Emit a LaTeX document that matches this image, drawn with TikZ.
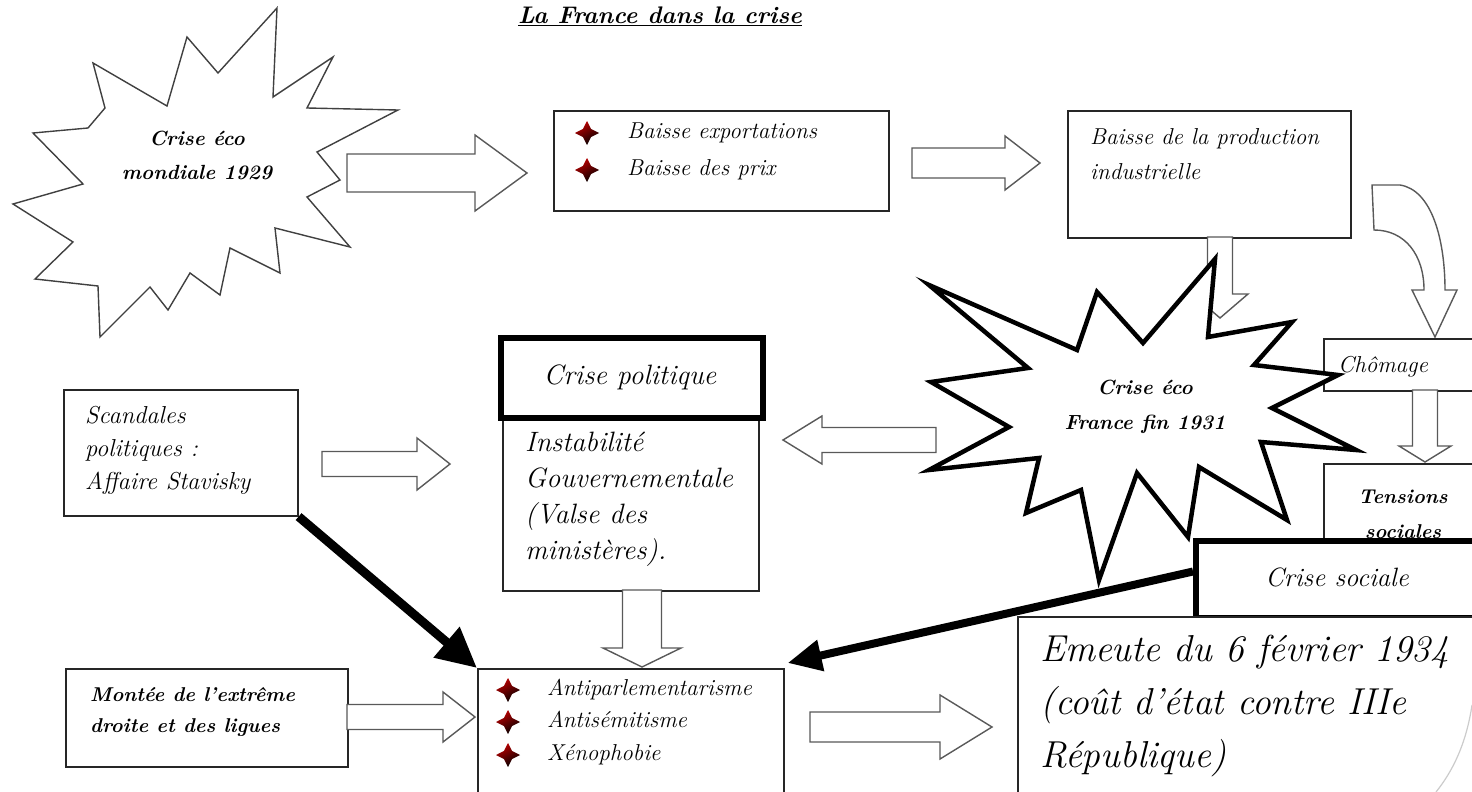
\documentclass[tikz,border=0pt]{standalone}
\usepackage{fontspec}
\usetikzlibrary{shapes.geometric,arrows.meta,calc}
\newcommand{\harrow}[6]{\draw[hollow] (#1,{#3-#4}) -- ({#2-#6},{#3-#4}) -- ({#2-#6},{#3-#5}) -- (#2,#3) -- ({#2-#6},{#3+#5}) -- ({#2-#6},{#3+#4}) -- (#1,{#3+#4}) -- cycle;}
\newcommand{\varrow}[6]{\draw[hollow] ({#1-#4},#2) -- ({#1-#4},{#3-#6}) -- ({#1-#5},{#3-#6}) -- (#1,#3) -- ({#1+#5},{#3-#6}) -- ({#1+#4},{#3-#6}) -- ({#1+#4},#2) -- cycle;}
\tikzset{
  box/.style={draw=black!85, line width=1.6pt, fill=white, inner sep=0pt, anchor=north west},
  thickbox/.style={draw=black, line width=6pt, fill=white, inner sep=0pt, anchor=north west},
  hollow/.style={draw=black!65, line width=1.4pt, fill=white, line join=miter},
  txt/.style={inner sep=0pt, align=left, anchor=west},
  ctxt/.style={inner sep=0pt, align=center},
  bulletstar/.style={star, star points=4, star point ratio=2.1, minimum size=24pt, inner sep=0pt, draw=none, shading=axis, top color=red!75!black, bottom color=black, shading angle=30},
  burstthin/.style={draw=black!75, line width=1.4pt, fill=white, line join=miter},
  burstthick/.style={draw=black, line width=4.5pt, fill=white, line join=miter},
  bigarrow/.style={line width=9pt, -{Triangle[length=40pt,width=38pt]}},
  bigarrowb/.style={line width=8pt, -{Triangle[length=34pt,width=30pt]}}
}
\begin{document}
\begin{tikzpicture}[x=1pt,y=-1pt]
\clip (0,0) rectangle (1472,792);
\fill[white] (0,0) rectangle (1472,792);

% title
\node[ctxt, font=\bfseries\itshape\fontsize{24}{28}\selectfont] (title) at (660,16) {\underline{La France dans la crise}};

% star 1
\draw[burstthin] (88,128) -- (33,133) -- (83,184) -- (13,204) -- (73,242) -- (35,279) -- (98,286) -- (100,337) -- (150,287) -- (168,310) -- (190,273) -- (220,295) -- (230,248) -- (280,273) -- (275,228) -- (350,247) -- (307,197) -- (340,180) -- (317,152) -- (398,110) -- (307,108) -- (333,57) -- (273,97) -- (277,8) -- (218,73) -- (187,37) -- (167,106) -- (93,63) -- (105,108) -- cycle;
\node[ctxt, font=\bfseries\itshape\fontsize{20.5}{34}\selectfont] (s1t) at (197,155) {Crise éco\\mondiale 1929};

% arrow 1 and exports box
\harrow{347}{527}{173}{19}{38}{52}
\node[box, minimum width=335pt, minimum height=100pt] (exp) at (553,110) {};
\node[bulletstar] (b1) at (587,133) {};
\node[bulletstar] (b2) at (587,170) {};
\node[txt, font=\itshape\fontsize{23}{37}\selectfont] (expt) at (627,151) {Baisse exportations\\Baisse des prix};

% arrow 2 and production box
\harrow{912}{1040}{163}{15}{27}{35}
\node[box, minimum width=283pt, minimum height=127pt] (prod) at (1067,110) {};
\node[txt, font=\itshape\fontsize{23}{35}\selectfont] (prodt) at (1090,154) {Baisse de la production\\industrielle};

% down arrow from production (behind star 2)
\varrow{1220}{237}{318}{12.5}{28}{24}

% curved arrow to chomage
\draw[hollow] (1372,185) -- (1400,185) .. controls (1432,190) and (1445,240) .. (1445,290) -- (1457,290) -- (1435,337) -- (1412,290) -- (1424,290) .. controls (1424,255) and (1405,230) .. (1374,230) -- cycle;

% chomage box
\node[box, minimum width=170pt, minimum height=52pt] (chom) at (1323,338) {};
\node[txt, font=\itshape\fontsize{23}{26}\selectfont] (chomt) at (1338,367) {Chômage};
\varrow{1425}{390}{462}{12.5}{26}{16}
\node[box, minimum width=170pt, minimum height=90pt] (tens) at (1323,463) {};
\node[ctxt, font=\bfseries\itshape\fontsize{20}{35}\selectfont] (tenst) at (1403,514) {Tensions\\sociales};

% star 2
\draw[burstthick] (929,285) -- (1028,368) -- (931,382) -- (1009,427) -- (929,470) -- (1039,458) -- (1026,513) -- (1081,490) -- (1099,580) -- (1137,473) -- (1188,537) -- (1199,467) -- (1287,520) -- (1261,442) -- (1356,450) -- (1272,408) -- (1338,375) -- (1254,365) -- (1292,322) -- (1208,337) -- (1215,259) -- (1143,343) -- (1097,292) -- (1077,350) -- cycle;
\node[ctxt, font=\bfseries\itshape\fontsize{20.5}{35}\selectfont] (s2t) at (1145,407) {Crise éco\\France fin 1931};

% crise sociale
\node[thickbox, minimum width=290pt, minimum height=77pt] (csoc) at (1193,538) {};
\node[ctxt, font=\itshape\fontsize{26.5}{30}\selectfont] (csoct) at (1337,577) {Crise sociale};

% arrow star 2 -> crise politique
\harrow{936}{783}{440}{12.5}{24}{-39}

% scandales
\node[box, minimum width=234pt, minimum height=126pt] (scand) at (63,389) {};
\node[txt, font=\itshape\fontsize{24.5}{33}\selectfont] (scandt) at (85,450) {Scandales\\politiques :\\Affaire Stavisky};
\harrow{322}{450}{464}{12.5}{26}{33}

% crise politique
\node[box, minimum width=256pt, minimum height=175pt] (cpolb) at (502,415) {};
\node[thickbox, minimum width=262pt, minimum height=80pt] (cpol) at (498,335) {};
\node[ctxt, font=\itshape\fontsize{28}{32}\selectfont] (cpolt) at (630,377) {Crise politique};
\node[txt, font=\itshape\fontsize{28}{36}\selectfont] (instt) at (525,499) {Instabilité\\Gouvernementale\\(Valse des\\ministères).};
\varrow{642}{590}{667}{19.5}{39}{19}

% antiparlementarisme box
\node[box, minimum width=306pt, minimum height=130pt] (anti) at (477,668) {};
\node[bulletstar] (b3) at (508,690) {};
\node[bulletstar] (b4) at (508,722) {};
\node[bulletstar] (b5) at (508,755) {};
\node[txt, font=\itshape\fontsize{23}{32.5}\selectfont] (antit) at (547,722) {Antiparlementarisme\\Antisémitisme\\Xénophobie};

% montee box
\node[box, minimum width=282pt, minimum height=98pt] (montee) at (65,668) {};
\node[txt, font=\bfseries\itshape\fontsize{20}{31}\selectfont] (monteet) at (90,712) {Montée de l'extrême\\droite et des ligues};
\harrow{347}{475}{717}{12.5}{25}{32}

% emeute box
\node[box, minimum width=470pt, minimum height=178pt] (emeute) at (1017,616) {};
\node[txt, font=\itshape\fontsize{37.5}{53}\selectfont] (emeutet) at (1040,706) {Emeute du 6 février 1934\\(coût d'état contre IIIe\\République)};
\harrow{810}{992}{727}{15}{32}{52}

% big black arrows
\draw[bigarrow] (scand.south east) -- (anti.north west);
\draw[bigarrowb] ($(csoc.west)+(0,-8)$) -- ($(anti.north east)+(3,-5)$);

% page curl
\draw[black!20, line width=1.2pt] (1472,705) .. controls (1466,745) and (1452,772) .. (1436,792);
\end{tikzpicture}
\end{document}
